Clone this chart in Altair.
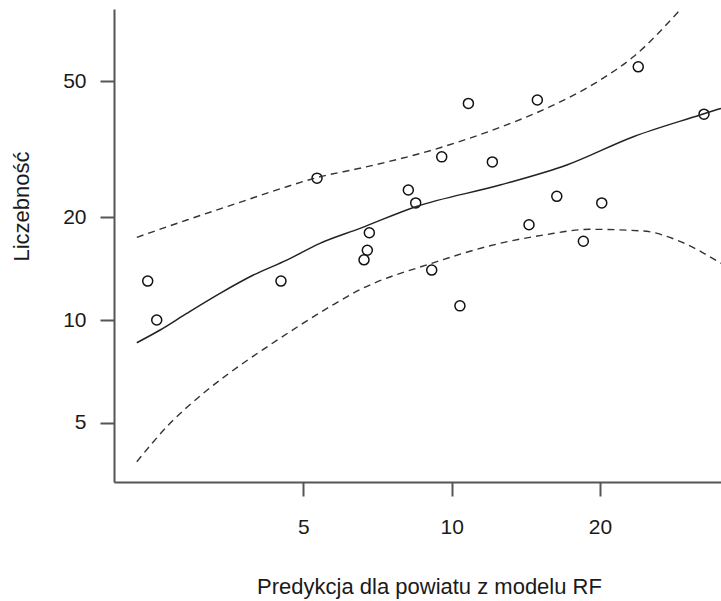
import altair as alt
import pandas as pd

# Observed points: prediction (x) vs. count (y)
pred_x = [2.415, 2.519, 4.502, 5.328, 6.637, 6.740, 6.804, 8.164, 8.451, 9.107, 9.544,
          10.39, 10.81, 12.09, 14.35, 14.92, 16.34, 18.50, 20.16, 23.91, 32.51]
count_y = [13, 10, 13, 26, 15, 16, 18, 24, 22, 14, 30,
           11, 43, 29, 19, 44, 23, 17, 22, 55, 40]

# Fitted curve
fit_x = [2.295, 2.559, 2.899, 3.386, 3.958, 4.625, 5.403, 6.515, 8.45, 12.53, 17.12, 23.37, 31.91, 35.2]
fit_y = [8.58, 9.35, 10.46, 11.97, 13.54, 14.97, 16.76, 18.54, 21.45, 24.81, 28.40, 34.36, 39.76, 41.59]

# Upper band
up_x = [2.295, 2.899, 3.662, 4.625, 5.403, 6.515, 9.615, 12.53, 15.83, 20.0, 23.37, 28.84]
up_y = [17.45, 19.61, 21.94, 24.54, 26.24, 27.78, 32.12, 36.60, 42.05, 50.31, 58.87, 79.7]

# Lower band
lo_x = [2.295, 2.681, 3.132, 3.548, 4.147, 4.996, 5.749, 6.515, 9.107, 12.53, 15.34, 19.09, 24.48, 28.61, 35.2]
lo_y = [3.852, 4.988, 6.105, 7.02, 8.21, 9.79, 11.09, 12.27, 14.65, 16.76, 17.72, 18.42, 18.21, 17.14, 14.65]

x_ticks = [5, 10, 20]
y_ticks = [5, 10, 20, 50]
x_domain = [2.063, 35.2]
y_domain = [3.36, 81.2]

FONT = "Liberation Sans"
INK = "#1a1a1a"

pts = pd.DataFrame({"x": pred_x, "y": count_y})
fit = pd.DataFrame({"x": fit_x, "y": fit_y})
up = pd.DataFrame({"x": up_x, "y": up_y})
lo = pd.DataFrame({"x": lo_x, "y": lo_y})

xs = alt.Scale(type="log", domain=x_domain, nice=False, zero=False)
ys = alt.Scale(type="log", domain=y_domain, nice=False, zero=False)

x_axis = alt.Axis(
    values=x_ticks, format="d", title="Predykcja dla powiatu z modelu RF",
    titleX=315, titleY=111, titleAlign="center", titleBaseline="alphabetic",
    titleAnchor="middle",
    labelBaseline="alphabetic", labelPadding=37,
)
y_axis = alt.Axis(
    values=y_ticks, format="d", title="Liczebność",
    titleAngle=270, titleX=-86, titleY=197, titleAlign="center",
    titleBaseline="alphabetic", labelPadding=14,
)

base_x = alt.X("x:Q", scale=xs, axis=x_axis)
base_y = alt.Y("y:Q", scale=ys, axis=y_axis)

points = alt.Chart(pts).mark_point(
    shape="circle", filled=False, size=100, strokeWidth=1.5, color="#111", opacity=1
).encode(x=base_x, y=base_y)

fit_line = alt.Chart(fit).mark_line(color="#222", strokeWidth=1.5, clip=True,
                                    interpolate="monotone").encode(
    x=alt.X("x:Q", scale=xs), y=alt.Y("y:Q", scale=ys), order="x:Q")
up_line = alt.Chart(up).mark_line(color="#333", strokeWidth=1.4, strokeDash=[7, 5], clip=True,
                                  interpolate="monotone").encode(
    x=alt.X("x:Q", scale=xs), y=alt.Y("y:Q", scale=ys), order="x:Q")
lo_line = alt.Chart(lo).mark_line(color="#333", strokeWidth=1.4, strokeDash=[7, 5], clip=True,
                                  interpolate="monotone").encode(
    x=alt.X("x:Q", scale=xs), y=alt.Y("y:Q", scale=ys), order="x:Q")

chart = alt.layer(points, fit_line, up_line, lo_line).properties(
    width=607, height=473,
    autosize=alt.AutoSizeParams(type="none"),
    padding={"left": 114, "top": 9, "right": 0, "bottom": 119},
    background="white",
).configure_view(stroke=None).configure_axis(
    grid=False,
    domainColor="#555", domainWidth=2,
    tickColor="#555", tickWidth=2, tickSize=14,
    labelFont=FONT, labelFontSize=21, labelColor=INK,
    titleFont=FONT, titleFontSize=22, titleColor=INK, titleFontWeight="normal",
)

chart.save("out.html", embed_options={"renderer": "svg", "actions": False})
